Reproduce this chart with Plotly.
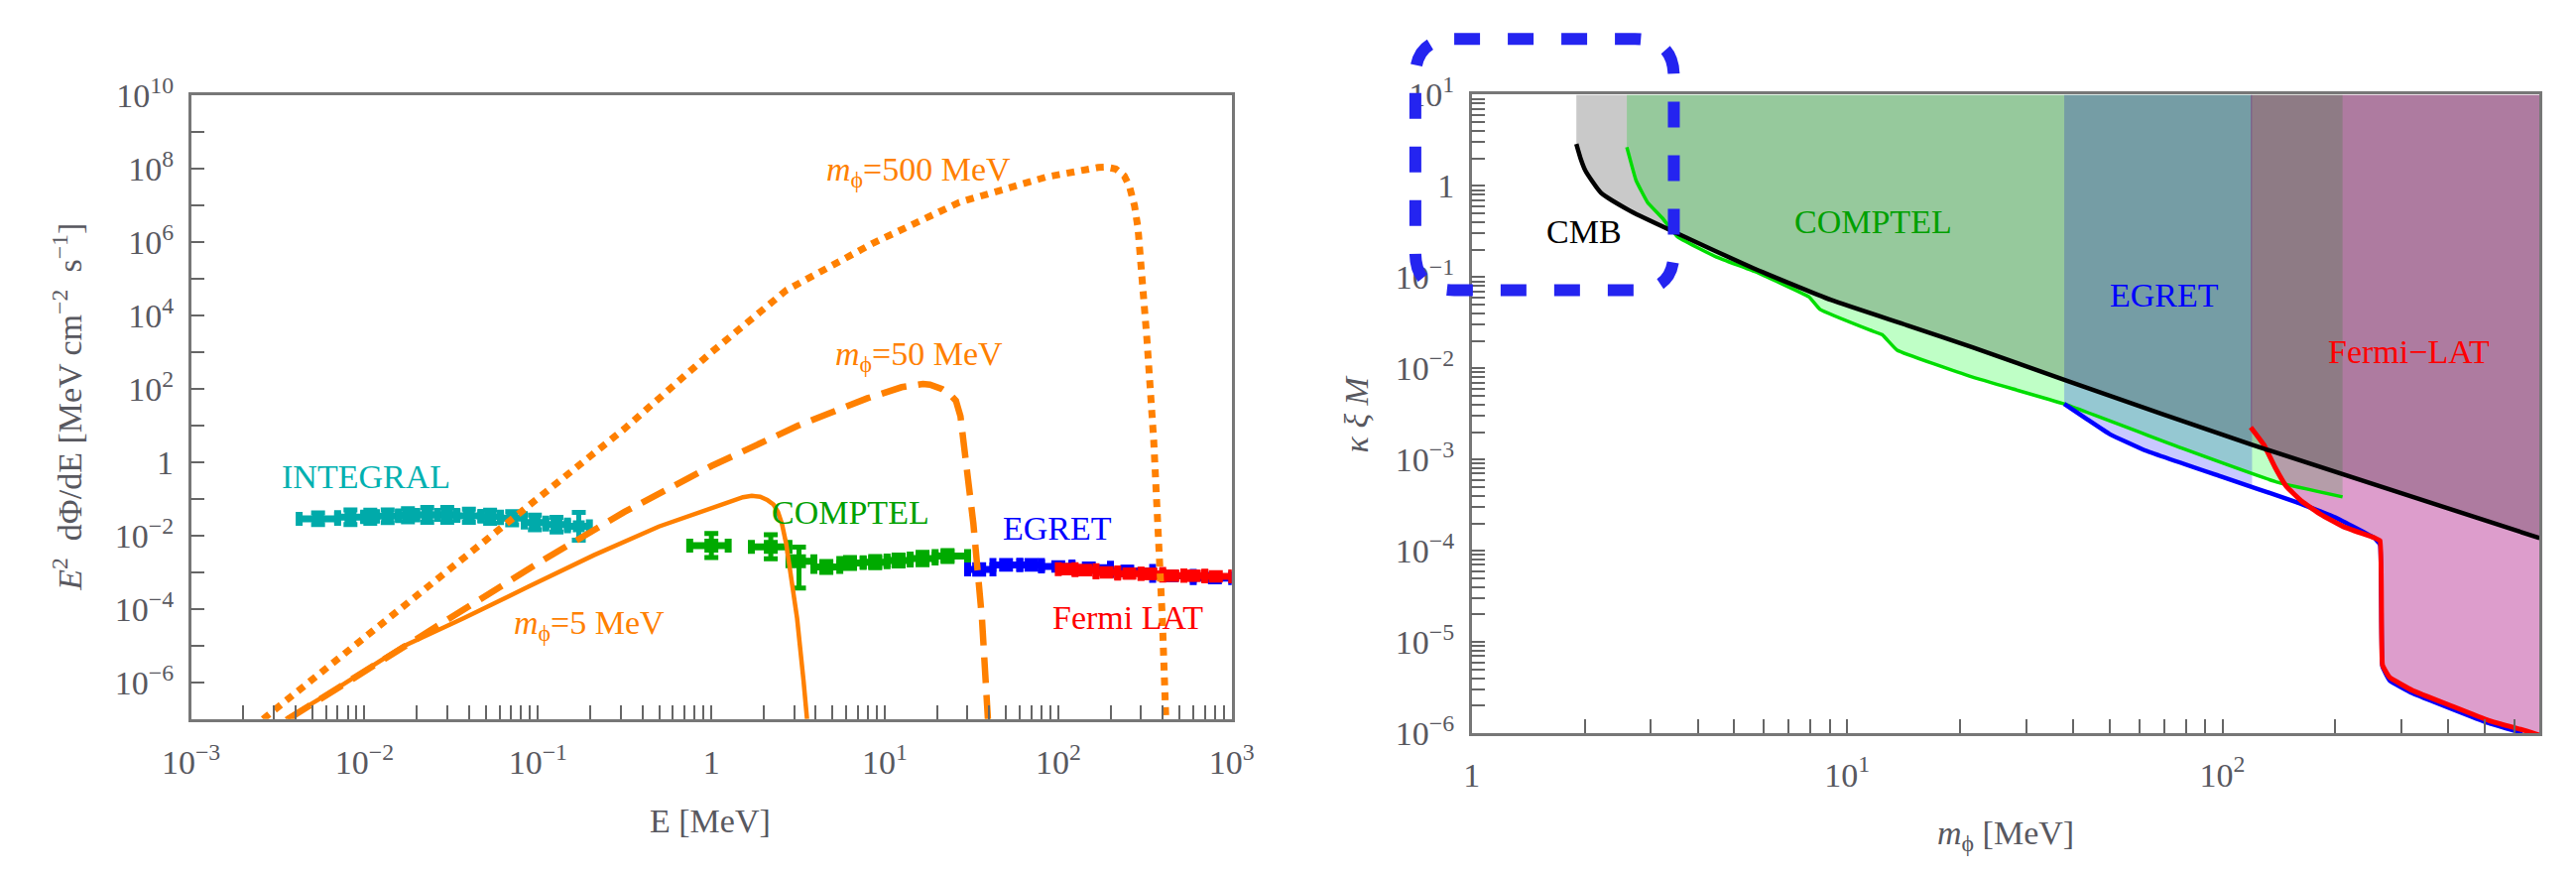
import numpy as np
import plotly.graph_objects as go

W, H = 2597, 881

# ---------------- LEFT PANEL DATA (E in MeV, E^2 dPhi/dE) ----------------
m5_E = [0.00352, 0.00662, 0.0166, 0.0372, 0.0883, 0.21, 0.498, 0.855, 1.25, 1.52, 1.71, 1.91, 2.1, 2.28, 2.42, 2.55, 2.70, 2.86, 3.12, 3.40, 3.56]
m5_F = [1e-7, 6.0e-7, 9.5e-6, 5.6e-5, 4.1e-4, 2.95e-3, 0.0178, 0.0427, 0.085, 0.112, 0.122, 0.115, 0.095, 0.0708, 0.045, 0.0214, 6.0e-3, 1.1e-3, 5.6e-5, 1.1e-6, 1e-7]

m50_E = [0.00363, 0.01, 0.0316, 0.1, 0.316, 1.0, 3.16, 7.94, 12.5, 15.1, 16.6, 18.2, 20.0, 21.4, 23.5, 25.7, 27.3, 28.8, 32.4, 36.3, 39.3]
m50_F = [1e-7, 2.0e-6, 6.3e-5, 1.78e-3, 0.0447, 0.794, 10, 56, 112, 132, 138, 132, 115, 100, 75, 48, 18, 2.5, 0.0214, 5.6e-5, 1e-7]

m500_E = [0.0026, 0.01, 0.0316, 0.1, 0.316, 1.0, 2.7, 8.57, 26.9, 85.1, 140, 170, 190, 214, 240, 257, 275, 288, 324, 355, 398, 417]
m500_F = [1e-7, 1.66e-5, 1.32e-3, 0.105, 8.3, 1000, 4.9e4, 9.5e5, 1.23e7, 6.0e7, 9.6e7, 1.1e8, 1.12e8, 1.0e8, 6.5e7, 3.4e7, 1.0e7, 2.5e6, 2500, 4, 5.6e-5, 1e-7]

integral_E = [0.0054, 0.0083, 0.0108, 0.0136, 0.0178, 0.023, 0.030, 0.040, 0.053, 0.071, 0.096, 0.128, 0.172]
integral_lo = [0.0042, 0.0070, 0.0099, 0.0117, 0.0157, 0.0200, 0.0264, 0.0341, 0.0469, 0.0608, 0.0834, 0.111, 0.148]
integral_hi = [0.0070, 0.0099, 0.0117, 0.0157, 0.0200, 0.0264, 0.0341, 0.0469, 0.0608, 0.0834, 0.111, 0.148, 0.198]
integral_F = [0.029, 0.032, 0.033, 0.034, 0.036, 0.037, 0.037, 0.035, 0.033, 0.030, 0.023, 0.020, 0.018]
integral_err = [0.16, 0.2, 0.18, 0.17, 0.18, 0.2, 0.2, 0.18, 0.18, 0.18, 0.2, 0.2, 0.38]

comptel_E = [1.0, 2.2, 3.2, 4.6, 6.3, 8.8, 12.0, 16.5, 23.0]
comptel_lo = [0.75, 1.7, 2.8, 3.9, 5.5, 7.5, 10.3, 14.0, 19.5]
comptel_hi = [1.25, 2.8, 3.9, 5.5, 7.5, 10.3, 14.0, 19.5, 30.0]
comptel_F = [5.4e-3, 5.0e-3, 2.0e-3, 1.4e-3, 1.8e-3, 1.9e-3, 2.1e-3, 2.4e-3, 2.8e-3]
comptel_up = [0.33, 0.33, 0.39, 0.15, 0.15, 0.15, 0.15, 0.17, 0.15]
comptel_dn = [0.33, 0.33, 0.73, 0.15, 0.15, 0.15, 0.15, 0.17, 0.15]

egret_E = [35, 50, 70, 100, 150, 250, 450, 800]
egret_lo = [30, 42, 60, 80, 120, 200, 350, 600]
egret_hi = [42, 60, 80, 120, 200, 350, 600, 1000]
egret_F = [1.2e-3, 1.6e-3, 1.6e-3, 1.45e-3, 1.35e-3, 1.1e-3, 8.0e-4, 7.0e-4]
egret_err = [0.13, 0.12, 0.12, 0.1, 0.1, 0.1, 0.1, 0.1]

fermi_E = [112, 143, 190, 257, 340, 455, 605, 810]
fermi_lo = [100, 125, 165, 220, 300, 400, 530, 700]
fermi_hi = [125, 165, 220, 300, 400, 530, 700, 1000]
fermi_F = [1.23e-3, 1.15e-3, 1.0e-3, 9.3e-4, 9.1e-4, 8.1e-4, 8.1e-4, 7.8e-4]
fermi_err = [0.1, 0.1, 0.1, 0.1, 0.1, 0.1, 0.1, 0.1]

# ---------------- RIGHT PANEL DATA (m_phi in MeV, kappa xi M) ----------------
cmb_m = [1.90, 1.95, 2.01, 2.21, 2.67, 3.54, 5.66, 9.08, 14.5, 21.6, 38.9, 120, 700]
cmb_k = [2.88, 2.0, 1.46, 0.84, 0.52, 0.30, 0.124, 0.056, 0.0295, 0.0170, 7.2e-3, 1.45e-3, 1.38e-4]

comptel_m = [2.59, 2.74, 2.94, 3.22, 3.54, 4.49, 5.68, 7.91, 8.47, 11.5, 12.4, 13.6, 21.6, 37.9, 78.5, 141, 209]
comptel_k = [2.65, 1.15, 0.66, 0.444, 0.275, 0.166, 0.115, 0.0608, 0.0443, 0.0263, 0.0234, 0.0158, 8.0e-3, 4.07e-3, 1.32e-3, 5.6e-4, 3.9e-4]

egret_m = [37.9, 43.7, 50.1, 62.2, 99.3, 158, 201, 254, 263, 267, 279, 321, 407, 513, 631]
egret_k = [4.07e-3, 2.75e-3, 1.9e-3, 1.26e-3, 6.5e-4, 3.4e-4, 2.3e-4, 1.38e-4, 1.17e-4, 5.4e-6, 3.8e-6, 2.75e-6, 1.86e-6, 1.29e-6, 1e-6]

fermi_m = [119, 129, 138, 148, 163, 183, 210, 254, 263, 267, 279, 321, 407, 513, 650, 700]
fermi_k = [2.26e-3, 1.45e-3, 8.3e-4, 5.1e-4, 3.47e-4, 2.5e-4, 1.84e-4, 1.39e-4, 1.29e-4, 5.6e-6, 4.1e-6, 2.95e-6, 2.0e-6, 1.38e-6, 1.05e-6, 9.5e-7]

# band x-extents of the excluded regions
comptel_band = [2.59, 209]
egret_band = [37.9, 120]
fermi_band = [119, 700]
cmb_band = [1.90, 700]

# ---------------- helpers ----------------
def dex_err(F, up, dn):
    return ([f * (10 ** u - 1) for f, u in zip(F, up)],
            [f * (1 - 10 ** (-d)) for f, d in zip(F, dn)])

def log_ticks(e0, e1, labeled, minor, xmax=None):
    vals, txt = [], []
    for e in range(e0, e1 + 1):
        v = 10.0 ** e
        if xmax is None or v <= xmax * 1.0001:
            vals.append(v)
            if e in labeled:
                txt.append("1" if e == 0 else "10<sup>%s</sup>" % (str(e).replace("-", "\u2212")))
            else:
                txt.append("")
        if minor and e < e1:
            for k in range(2, 10):
                mv = k * 10.0 ** e
                if xmax is None or mv <= xmax * 1.0001:
                    vals.append(mv)
                    txt.append("")
    return vals, txt

FONT = "Liberation Serif"
TICKCOL = "#58585f"
ORANGE = "#ff8000"

fig = go.Figure()

# ---------- left panel ----------
def add_data(E, lo, hi, F, up, dn, color, msize=12):
    eu, ed = dex_err(F, up, dn)
    fig.add_trace(go.Scatter(
        x=E, y=F, mode="markers", xaxis="x", yaxis="y", showlegend=False,
        marker=dict(symbol="square", size=msize, color=color),
        error_x=dict(type="data", symmetric=False,
                     array=[h - e for h, e in zip(hi, E)],
                     arrayminus=[e - l for e, l in zip(E, lo)],
                     color=color, thickness=7, width=7),
        error_y=dict(type="data", symmetric=False, array=eu, arrayminus=ed,
                     color=color, thickness=5, width=7)))

add_data(integral_E, integral_lo, integral_hi, integral_F, integral_err, integral_err, "#00aaaa")
add_data(comptel_E, comptel_lo, comptel_hi, comptel_F, comptel_up, comptel_dn, "#00aa00", 14)
add_data(egret_E, egret_lo, egret_hi, egret_F, egret_err, egret_err, "#0000ff")
add_data(fermi_E, fermi_lo, fermi_hi, fermi_F, fermi_err, fermi_err, "#ff0000")

fig.add_trace(go.Scatter(x=m5_E, y=m5_F, mode="lines", xaxis="x", yaxis="y", showlegend=False,
                         line=dict(color=ORANGE, width=4.5)))
fig.add_trace(go.Scatter(x=m50_E, y=m50_F, mode="lines", xaxis="x", yaxis="y", showlegend=False,
                         line=dict(color=ORANGE, width=6.5, dash="26px,12px")))
fig.add_trace(go.Scatter(x=m500_E, y=m500_F, mode="lines", xaxis="x", yaxis="y", showlegend=False,
                         line=dict(color=ORANGE, width=7, dash="8px,7px")))

# ---------- right panel ----------
TOP = 10.0

def band_poly(cx, cy, band):
    lx = np.log10(cx)
    ly = np.log10(cy)
    a, b = np.log10(band[0]), np.log10(band[1])
    xs = [v for v, l in zip(cx, lx) if a - 1e-9 <= l <= b + 1e-9]
    ys = [v for v, l in zip(cy, lx) if a - 1e-9 <= l <= b + 1e-9]
    if xs[-1] < band[1] * 0.999:
        xs.append(band[1])
        ys.append(10 ** np.interp(b, lx, ly))
    xs = xs + [band[1], band[0], band[0]]
    ys = ys + [TOP, TOP, ys[0]]
    return xs, ys

fills = [
    (comptel_m, comptel_k, comptel_band, "rgba(0,255,28,0.25)"),
    (egret_m, egret_k, egret_band, "rgba(0,0,255,0.216)"),
    (fermi_m, fermi_k, fermi_band, "rgba(167,0,122,0.384)"),
    (cmb_m, cmb_k, cmb_band, "rgba(0,0,0,0.21)"),
]
for cx, cy, band, col in fills:
    xs, ys = band_poly(cx, cy, band)
    fig.add_trace(go.Scatter(x=xs, y=ys, mode="lines", fill="toself", fillcolor=col,
                             line=dict(width=0, color=col), xaxis="x2", yaxis="y2",
                             showlegend=False, hoverinfo="skip"))

for cx, cy, col, w, sm in [(comptel_m, comptel_k, "#00dd00", 3.5, 0.3),
                           (egret_m, egret_k, "#0000ff", 4.5, 0.3),
                           (fermi_m, fermi_k, "#ff0000", 5, 0.3),
                           (cmb_m, cmb_k, "#000000", 4.5, 0.5)]:
    fig.add_trace(go.Scatter(x=cx, y=cy, mode="lines", xaxis="x2", yaxis="y2", showlegend=False,
                             line=dict(color=col, width=w, shape="spline", smoothing=sm)))

# ---------- axes ----------
lx_vals, lx_txt = log_ticks(-3, 3, list(range(-3, 4)), True)
ly_vals, ly_txt = log_ticks(-7, 10, [10, 8, 6, 4, 2, 0, -2, -4, -6], False)
rx_vals, rx_txt = log_ticks(0, 3, [0, 1, 2], True, xmax=700)
ry_vals, ry_txt = log_ticks(-6, 1, list(range(-6, 2)), True)

common = dict(type="log", showgrid=False, zeroline=False, showline=True, linecolor="#777777",
              linewidth=2.5, mirror=True, ticks="inside", ticklen=14, tickwidth=2, tickcolor="#666666",
              tickfont=dict(family=FONT, size=34, color=TICKCOL), tickmode="array")

def px2paper_x(p):
    return p / W

def px2paper_y(p):
    return 1 - p / H

fig.update_layout(
    width=W, height=H, autosize=False,
    margin=dict(l=0, r=0, t=0, b=0),
    paper_bgcolor="white", plot_bgcolor="white",
    xaxis=dict(common, domain=[px2paper_x(166), px2paper_x(1237)], range=[-3, 3],
               tickvals=lx_vals, ticktext=lx_txt, anchor="y", ticklabelstandoff=12),
    yaxis=dict(common, domain=[px2paper_y(737), px2paper_y(77)], range=[-7, 10],
               tickvals=ly_vals, ticktext=ly_txt, anchor="x", ticklabelstandoff=8),
    xaxis2=dict(common, domain=[px2paper_x(1484), px2paper_x(2583)], range=[0, np.log10(700)],
                tickvals=rx_vals, ticktext=rx_txt, anchor="y2", ticklabelstandoff=10),
    yaxis2=dict(common, domain=[px2paper_y(752), px2paper_y(76)], range=[-6, 1],
                tickvals=ry_vals, ticktext=ry_txt, anchor="x2", ticklabelstandoff=8),
)

# ---------- text ----------
def ann(text, px, py, color, size=34, angle=0):
    fig.add_annotation(text=text, x=px2paper_x(px), y=px2paper_y(py), xref="paper", yref="paper",
                       showarrow=False, xanchor="center", yanchor="middle", textangle=angle,
                       font=dict(family=FONT, size=size, color=color))

phi = "<i>m</i><sub>\u03d5</sub>"
ann("INTEGRAL", 346, 480, "#00b0b0")
ann(phi + "=5 MeV", 576, 637, ORANGE)
ann(phi + "=500 MeV", 915, 158, ORANGE)
ann(phi + "=50 MeV", 915, 353, ORANGE)
ann("COMPTEL", 845, 518, "#00a000")
ann("EGRET", 1058, 535, "#0000ff")
ann("Fermi LAT", 1130, 630, "#ff0000")

ann("CMB", 1600, 221, "#000000")
ann("COMPTEL", 1897, 211, "#00a000")
ann("EGRET", 2197, 288, "#0000ff")
ann("Fermi\u2212LAT", 2448, 348, "#ff0000")

ann("E [MeV]", 700, 845, TICKCOL)
ann("<i>E</i><sup>2</sup>  d\u03a6/dE [MeV cm<sup>\u22122</sup>  s<sup>\u22121</sup>]", 38, 407, TICKCOL, angle=-90)
ann("<i>\u03ba \u03be M</i>", 1365, 414, TICKCOL, angle=-90)
ann("<i>m</i><sub>\u03d5</sub> [MeV]", 2033, 860, TICKCOL)

# ---------- blue dashed rounded box ----------
x0, x1 = px2paper_x(1426), px2paper_x(1692)
yb, yt = px2paper_y(283), px2paper_y(17)
rx, ry = 40 / W, 40 / H
path = (f"M {x0+rx},{yt} L {x1-rx},{yt} Q {x1},{yt} {x1},{yt-ry} L {x1},{yb+ry} "
        f"Q {x1},{yb} {x1-rx},{yb} L {x0+rx},{yb} Q {x0},{yb} {x0},{yb+ry} "
        f"L {x0},{yt-ry} Q {x0},{yt} {x0+rx},{yt} Z")
fig.add_shape(type="path", path=path, xref="paper", yref="paper",
              line=dict(color="#2424f0", width=12, dash="26px,28px"))

fig.write_html("out.html")
